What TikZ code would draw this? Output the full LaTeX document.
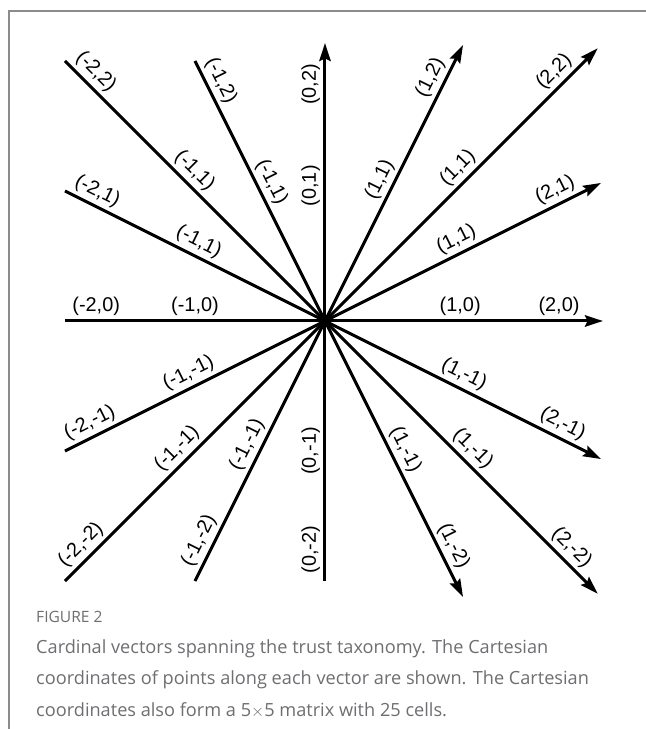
\documentclass[tikz,border=0pt]{standalone}
\usepackage{fontspec}
\setmainfont{Liberation Sans}
\newfontfamily\capfont{Open Sans}
\usepackage{tikz}
\usetikzlibrary{arrows.meta, positioning, calc}
\definecolor{framegray}{HTML}{8C8C8C}
\definecolor{capgray}{HTML}{6D6E71}

\begin{document}
\begin{tikzpicture}[
    x=3.9cm, y=3.9cm,
    vec/.style={line width=0.09cm},
    arr/.style={vec, -{Stealth[length=0.54cm, width=0.34cm, inset=0.08cm]}, shorten >=-0.54cm},
    lbl/.style={sloped, above, inner sep=3pt, font=\fontsize{17}{19}\selectfont},
    frame/.style={draw=framegray, line width=0.04cm},
    figtag/.style={font=\capfont\fontsize{13.3}{15}\selectfont, text=capgray, inner sep=0pt},
    captxt/.style={font=\capfont\fontsize{15.5}{27}\selectfont, text=capgray, align=left, inner sep=0pt}
]
\useasboundingbox (-2.5,-3.1385) rectangle (2.4692,2.4692);
\draw[frame] (2.4692,2.3846) -- (-2.4308,2.3846) -- (-2.4308,-3.1385);

% grid points
\coordinate (o) at (0,0);
\coordinate (v02) at (0,2);
\coordinate (v12) at (1,2);
\coordinate (v22) at (2,2);
\coordinate (v21) at (2,1);
\coordinate (v20) at (2,0);
\coordinate (v2m1) at (2,-1);
\coordinate (v2m2) at (2,-2);
\coordinate (v1m2) at (1,-2);
\coordinate (v0m2) at (0,-2);
\coordinate (vm1m2) at (-1,-2);
\coordinate (vm2m2) at (-2,-2);
\coordinate (vm2m1) at (-2,-1);
\coordinate (vm20) at (-2,0);
\coordinate (vm21) at (-2,1);
\coordinate (vm22) at (-2,2);
\coordinate (vm12) at (-1,2);

% vectors with arrow heads
\draw[arr] (o) -- (v02) node[lbl, pos=0.52] (l02mid) {(0,1)} node[lbl, pos=0.91] (l02end) {(0,2)};
\draw[arr] (o) -- (v12) node[lbl, pos=0.52] (l12mid) {(1,1)} node[lbl, pos=0.91] (l12end) {(1,2)};
\draw[arr] (o) -- (v22) node[lbl, pos=0.55] (l22mid) {(1,1)} node[lbl, pos=0.92] (l22end) {(2,2)};
\draw[arr] (o) -- (v21) node[lbl, pos=0.53] (l21mid) {(1,1)} node[lbl, pos=0.91] (l21end) {(2,1)};
\draw[arr] (o) -- (v20) node[lbl, pos=0.52] (l20mid) {(1,0)} node[lbl, pos=0.90] (l20end) {(2,0)};
\draw[arr] (o) -- (v2m1) node[lbl, pos=0.51] (l2m1mid) {(1,-1)} node[lbl, pos=0.89] (l2m1end) {(2,-1)};
\draw[arr] (o) -- (v2m2) node[lbl, pos=0.53] (l2m2mid) {(1,-1)} node[lbl, pos=0.91] (l2m2end) {(2,-2)};
\draw[arr] (o) -- (v1m2) node[lbl, pos=0.52] (l1m2mid) {(1,-1)} node[lbl, pos=0.89] (l1m2end) {(1,-2)};

% plain vectors
\draw[vec] (v0m2) -- (o) node[lbl, pos=0.12] (l0m2end) {(0,-2)} node[lbl, pos=0.50] (l0m2mid) {(0,-1)};
\draw[vec] (vm1m2) -- (o) node[lbl, pos=0.13] (lm1m2end) {(-1,-2)} node[lbl, pos=0.50] (lm1m2mid) {(-1,-1)};
\draw[vec] (vm2m2) -- (o) node[lbl, pos=0.10] (lm2m2end) {(-2,-2)} node[lbl, pos=0.47] (lm2m2mid) {(-1,-1)};
\draw[vec] (vm2m1) -- (o) node[lbl, pos=0.12] (lm2m1end) {(-2,-1)} node[lbl, pos=0.50] (lm2m1mid) {(-1,-1)};
\draw[vec] (vm20) -- (o) node[lbl, pos=0.12] (lm20end) {(-2,0)} node[lbl, pos=0.50] (lm20mid) {(-1,0)};
\draw[vec] (vm21) -- (o) node[lbl, pos=0.10] (lm21end) {(-2,1)} node[lbl, pos=0.49] (lm21mid) {(-1,1)};
\draw[vec] (vm22) -- (o) node[lbl, pos=0.08] (lm22end) {(-2,2)} node[lbl, pos=0.46] (lm22mid) {(-1,1)};
\draw[vec] (vm12) -- (o) node[lbl, pos=0.10] (lm12end) {(-1,2)} node[lbl, pos=0.49] (lm12mid) {(-1,1)};

% caption
\node[figtag, anchor=base west] (figtag) at (-2.2231,-2.323) {FIGURE 2};
\node[captxt, below=0.47cm of figtag.south west, anchor=north west] (caption)
    {Cardinal vectors spanning the trust taxonomy. The Cartesian\\
     coordinates of points along each vector are shown. The Cartesian\\
     coordinates also form a 5$\times$5 matrix with 25 cells.};
\end{tikzpicture}
\end{document}
